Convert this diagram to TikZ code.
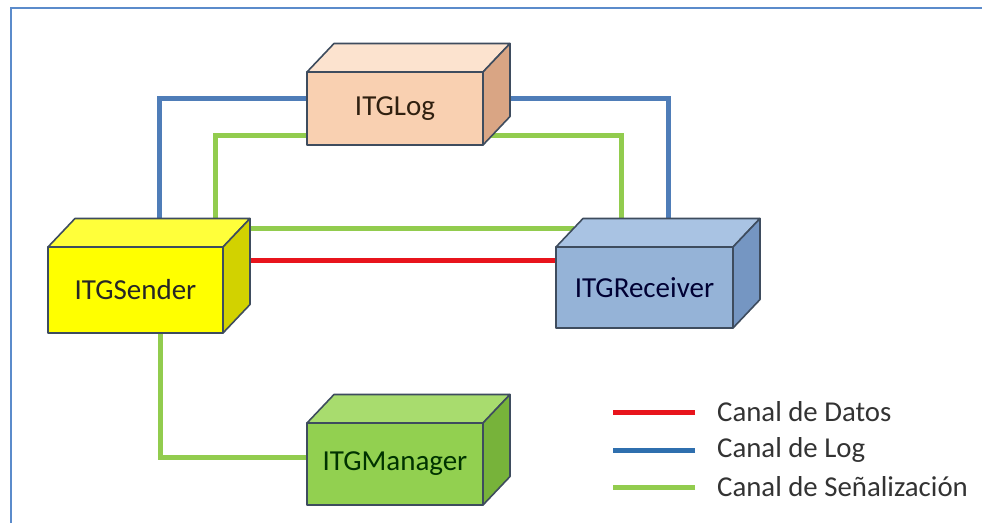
\documentclass[tikz,border=0pt]{standalone}
\usepackage{fontspec}
\setmainfont{Carlito}
\pgfdeclarelayer{wires}
\pgfsetlayers{wires,main}

\definecolor{framecol}{HTML}{5B8BCB}
\definecolor{edgecol}{HTML}{3E4C5E}
\definecolor{logblue}{HTML}{4F7DB8}
\definecolor{siggreen}{HTML}{92CC4E}
\definecolor{datared}{HTML}{E8141C}
\definecolor{legblue}{HTML}{2F6FAE}
\definecolor{logfront}{HTML}{F9D0B1}
\definecolor{logtop}{HTML}{FCE3CF}
\definecolor{logside}{HTML}{D9A584}
\definecolor{sendfront}{HTML}{FFFF00}
\definecolor{sendtop}{HTML}{FFFF3A}
\definecolor{sendside}{HTML}{D2D200}
\definecolor{recvfront}{HTML}{95B3D7}
\definecolor{recvtop}{HTML}{A9C3E3}
\definecolor{recvside}{HTML}{7596C2}
\definecolor{mgrfront}{HTML}{92D050}
\definecolor{mgrtop}{HTML}{A8DC6E}
\definecolor{mgrside}{HTML}{77B33A}

\tikzset{
  x=1pt, y=1pt,
  facedraw/.style={draw=edgecol, line width=1.6pt, line join=round},
  blockfront/.style={rectangle, facedraw, inner sep=0pt, outer sep=0pt,
    font=\fontsize{29}{34}\selectfont},
  wire/.style={line width=5pt},
  logline/.style={wire, draw=logblue},
  sigline/.style={wire, draw=siggreen},
  dataline/.style={wire, draw=datared},
  legtext/.style={anchor=west, inner sep=0pt, text=black!80,
    font=\fontsize{28.8}{33}\selectfont},
}

% top and side faces of a block drawn behind its front face node
\newcommand\blockfaces[3]{%
  \filldraw[facedraw, fill=#2] (#1.north west) -- ++(27,28.5)
    -- ([shift={(27,28.5)}]#1.north east) -- (#1.north east) -- cycle;
  \filldraw[facedraw, fill=#3] (#1.north east) -- ++(27,28.5)
    -- ([shift={(27,28.5)}]#1.south east) -- (#1.south east) -- cycle;
}

\begin{document}
\begin{tikzpicture}
\useasboundingbox (0,0) rectangle (982,-523);

% front faces of the four blocks
\node[blockfront, fill=logfront, text=black!75!brown, minimum width=176, minimum height=73]
  (log) at (395,-108.5) {ITGLog};
\node[blockfront, fill=sendfront, text=black!85, minimum width=175, minimum height=86]
  (send) at (135.5,-290) {ITGSender};
\node[blockfront, fill=recvfront, text=black!80!blue, minimum width=177, minimum height=81]
  (recv) at (644.5,-287.5) {ITGReceiver};
\node[blockfront, fill=mgrfront, text=black!80!green, minimum width=176, minimum height=82]
  (mgr) at (395,-464) {ITGManager};

\blockfaces{log}{logtop}{logside}
\blockfaces{send}{sendtop}{sendside}
\blockfaces{recv}{recvtop}{recvside}
\blockfaces{mgr}{mgrtop}{mgrside}

% channels, drawn underneath the blocks
\begin{pgfonlayer}{wires}
  \fill[white] (0,0) rectangle (982,-523);
  \draw[framecol, line width=2pt] (982,-8) -- (10.5,-8) -- (10.5,-523);
  % log channel
  \draw[logline] ([xshift=23.5]send.north) |- ([yshift=10.5]log.west);
  \draw[logline] ([yshift=10.5]log.east) -| ([xshift=23.5]recv.north);
  % signalling channel
  \draw[sigline] ([xshift=79.5]send.north) |- ([yshift=-26.5]log.west);
  \draw[sigline] ([yshift=-26.5]log.east) -| ([xshift=-23.5]recv.north);
  \draw[sigline] ([shift={(17.7,19)}]recv.north west) -- ([shift={(20,19)}]recv.north west -| send.north east);
  \draw[sigline] ([xshift=24.5]send.south) |- ([yshift=7]mgr.west);
  % data channel
  \draw[dataline] ([yshift=27.5]recv.west) -- ([yshift=27.5]recv.west -| send.east);
\end{pgfonlayer}

% legend
\node[legtext] (ldata) at (717,-412) {Canal de Datos};
\node[legtext] (llog)  at (717,-450) {Canal de Log};
\node[legtext] (lsig)  at (717,-487) {Canal de Señalización};
\draw[wire, datared] ([xshift=-22]ldata.west) -- ++(-82,0);
\draw[wire, legblue] ([xshift=-22]llog.west) -- ++(-82,0);
\draw[wire, siggreen] ([xshift=-22]lsig.west) -- ++(-82,0);
\end{tikzpicture}
\end{document}
